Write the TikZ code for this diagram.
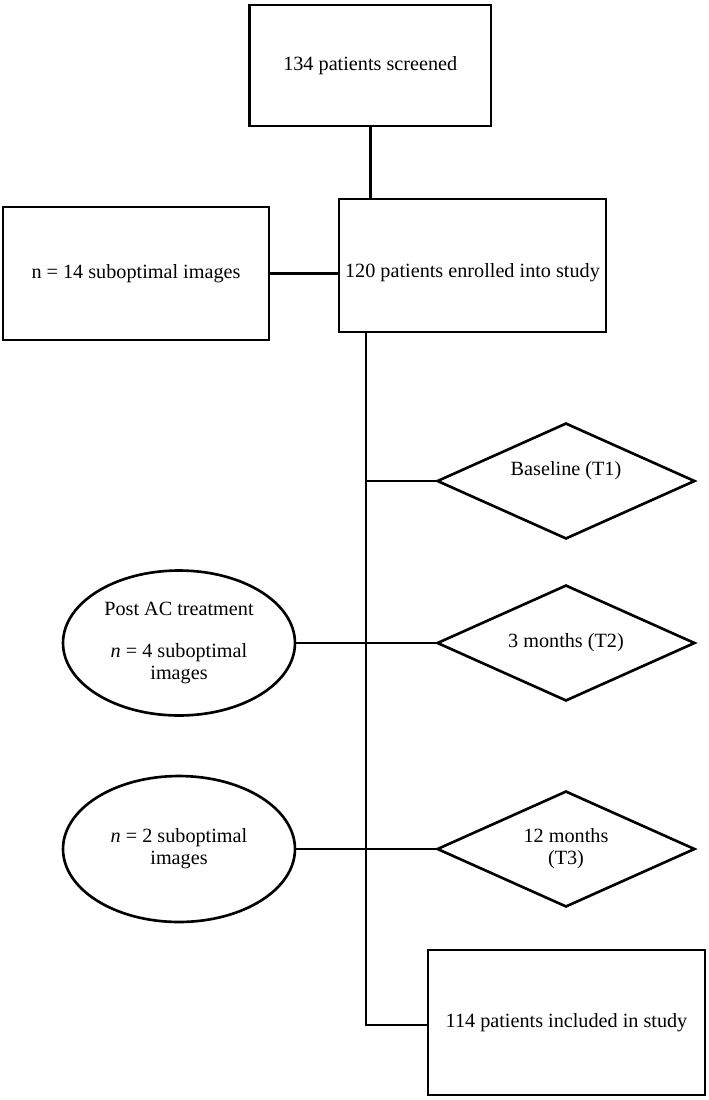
\documentclass[tikz,border=0pt]{standalone}
\usepackage{fontspec}
\setmainfont{Liberation Serif}
\usetikzlibrary{shapes.geometric}
\tikzset{
	% ------- every something
	every path/.style={
		line width=1.5pt,
	},
	every node/.style={
		font=\fontsize{11.5}{12.5}\selectfont,
	},
	% ------- custom
	stage/.style={
		draw, rectangle, inner sep=0pt, align=center,
	},
	timepoint/.style={
		draw, diamond, aspect=2.2, inner sep=0pt, align=center,
		minimum width=5.16cm, minimum height=2.32cm,
	},
	exclusion/.style={
		draw, ellipse, inner sep=0pt, align=center,
		minimum width=4.64cm, minimum height=2.9cm,
	},
}
\begin{document}
\begin{tikzpicture}[x=0.02cm, y=-0.02cm]

% frame %{{{1

	\useasboundingbox (0,0) rectangle (709,1100);

% boxes %{{{1

	\node[stage, minimum width=4.83cm, minimum height=2.42cm] (screened) at (370.25,65.5)
		{134 patients screened};
	\node[stage, minimum width=5.34cm, minimum height=2.66cm, text height=0.58cm] (enrolled) at (472.5,265.5)
		{120 patients enrolled into study};
	\node[stage, minimum width=5.32cm, minimum height=2.66cm] (subopt) at (136,273.5)
		{n = 14 suboptimal images};
	\node[stage, minimum width=5.54cm, minimum height=2.9cm] (included) at (566.5,1022.5)
		{114 patients included in study};

% time points %{{{1

	\node[timepoint, text depth=0.49cm] (tone) at (566,481) {Baseline (T1)};
	\node[timepoint] (ttwo) at (566,643) {3 months (T2)};
	\node[timepoint] (tthree) at (566,849) {12 months\\(T3)};

% exclusions %{{{1

	\node[exclusion] (postac) at (179,643)
		{Post AC treatment\\[11pt]\textit{n} = 4 suboptimal\\images};
	\node[exclusion, minimum height=2.92cm] (twomore) at (179,849)
		{\textit{n} = 2 suboptimal\\images};

% coordinates %{{{1

	\coordinate (join) at (473,199);
	\coordinate (spinetop) at (366,332);
	\coordinate (spinebot) at (366,1025);

% connectors %{{{1

	\draw (screened.south) |- (join);
	\draw (subopt.east) -- (subopt.east -| enrolled.west);
	\draw (spinetop) -- (spinebot) -- (spinebot -| included.west);
	\draw (tone.west -| spinetop) -- (tone.west);
	\draw (postac.east) -- (ttwo.west);
	\draw (twomore.east) -- (tthree.west);

% closing %{{{1

\end{tikzpicture}
\end{document}
